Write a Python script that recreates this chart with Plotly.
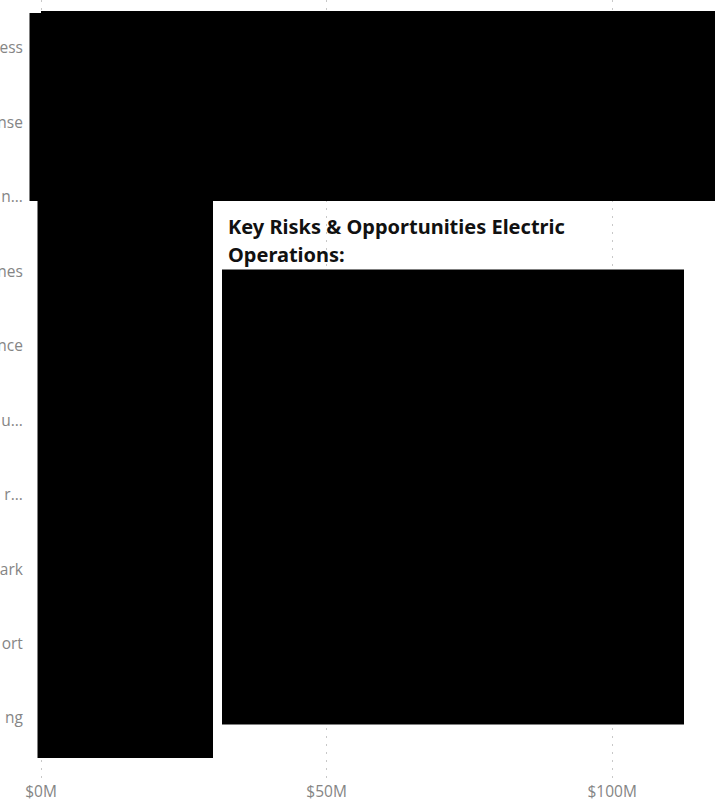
import plotly.graph_objects as go

# Category labels as visible (truncated by the crop of the original visual)
categories = ["ess", "nse", "n...", "nes", "nce", "u...", "r...", "ark", "ort", "ng"]
# Bar values in $M (bars are fully hidden by the redaction boxes; estimated extents)
values_m = [118, 118, 30, 30, 30, 30, 30, 30, 30, 30]
tick_vals = [0, 50, 100]
tick_text = ["$0M", "$50M", "$100M"]
title_lines = ["Key Risks & Opportunities Electric", "Operations:"]

W, H = 715, 808
L, B = 30, 28

fig = go.Figure()
fig.add_trace(go.Bar(
    x=values_m, y=categories, orientation="h",
    marker=dict(color="#000000", line=dict(width=0)),
    hoverinfo="skip", showlegend=False,
))

label_font = dict(family="Open Sans, Noto Sans, sans-serif", size=15.5, color="#858585")

fig.update_layout(
    width=W, height=H,
    margin=dict(l=L, r=0, t=0, b=B, autoexpand=False),
    paper_bgcolor="white", plot_bgcolor="white",
    bargap=0,
    xaxis=dict(
        range=[-1.93, 118.0], tickvals=tick_vals, ticktext=tick_text,
        showgrid=True, gridcolor="#c8c8c8", gridwidth=1, griddash="2px,6px",
        zeroline=False, showline=False, tickfont=label_font, ticks="",
        automargin=False,
    ),
    yaxis=dict(
        type="category", categoryorder="array", categoryarray=categories,
        range=[9.833, -0.645], showgrid=False, zeroline=False, showline=False,
        tickfont=label_font, ticks="outside", ticklen=3, tickcolor="rgba(0,0,0,0)",
        automargin=False,
    ),
)

def px_rect(x0, y0, x1, y1):
    return dict(type="rect", xref="paper", yref="paper",
                x0=(x0 - L) / (W - L), x1=(x1 - L) / (W - L),
                y0=1 - (y1) / (H - B), y1=1 - (y0) / (H - B),
                fillcolor="#000000", line=dict(width=0), layer="above")

# Redaction boxes over the original visual
fig.add_shape(**px_rect(29.5, 13, 715, 201))
fig.add_shape(**px_rect(37.5, 200, 213, 758))
fig.add_shape(**px_rect(222, 269.5, 684, 724.5))

for i, line in enumerate(title_lines):
    fig.add_annotation(
        xref="paper", yref="paper",
        x=(226 - L) / (W - L), y=1 - (226 + 29 * i) / (H - B),
        xanchor="left", yanchor="middle", showarrow=False,
        text=f"<b>{line}</b>",
        font=dict(family="Noto Sans, sans-serif", size=20, color="#111111"),
    )

fig.write_html("out.html")
